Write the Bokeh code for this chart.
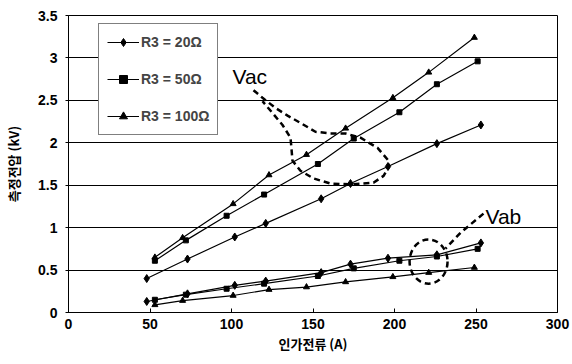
from bokeh.plotting import figure
from bokeh.models import Range1d, Legend, LegendItem, FixedTicker, Label
from bokeh.embed import file_html
from bokeh.resources import INLINE

# ---- data ----
x20 = [48, 73, 102, 121, 155, 173, 196, 226, 253]
vac20 = [0.40, 0.63, 0.89, 1.05, 1.34, 1.52, 1.72, 1.99, 2.21]
vab20 = [0.13, 0.22, 0.32, 0.37, 0.47, 0.57, 0.64, 0.68, 0.82]

x50 = [53, 72, 97, 120, 153, 175, 203, 226, 251]
vac50 = [0.61, 0.85, 1.14, 1.39, 1.75, 2.05, 2.36, 2.69, 2.96]
vab50 = [0.15, 0.21, 0.28, 0.34, 0.43, 0.52, 0.61, 0.66, 0.75]

x100 = [53, 70, 101, 123, 146, 170, 199, 221, 249]
vac100 = [0.65, 0.88, 1.28, 1.62, 1.86, 2.17, 2.53, 2.83, 3.24]
vab100 = [0.09, 0.14, 0.20, 0.27, 0.30, 0.36, 0.42, 0.47, 0.53]

labels = ["R3 = 20Ω", "R3 = 50Ω", "R3 = 100Ω"]
x_ticks = [0, 50, 100, 150, 200, 250, 300]
y_ticks = [0, 0.5, 1, 1.5, 2, 2.5, 3, 3.5]

# callout annotations (data units)
vac_path_x = [113.5, 119.0, 127.0, 134.4, 143.6, 151.5, 160.7, 169.9, 179.1, 189.6, 196.3, 196.3,
              193.3, 187.1, 173.0, 160.7, 150.3, 142.3, 137.4, 136.8, 136.2, 131.3, 125.2, 119.0]
vac_path_y = [2.62, 2.53, 2.41, 2.32, 2.22, 2.13, 2.11, 2.11, 2.06, 1.94, 1.79, 1.71,
              1.61, 1.53, 1.51, 1.52, 1.58, 1.67, 1.79, 1.93, 2.06, 2.21, 2.35, 2.49]
vab_tail_x = [254.6, 240.5, 231.3]
vab_tail_y = [1.165, 0.94, 0.753]
vab_ell = dict(x=220.9, y=0.60, w=23.3, h=0.52)

FONT = "Liberation Sans"
KFONT = "Noto Sans CJK KR"

p = figure(width=572, height=364, output_backend="svg", toolbar_location=None,
           x_range=Range1d(0, 300), y_range=Range1d(0, 3.5),
           min_border_left=68, min_border_right=15, min_border_top=15, min_border_bottom=52)
p.outline_line_color = "black"
p.outline_line_width = 1
p.background_fill_color = "white"
p.border_fill_color = "white"

p.xgrid.visible = False
p.ygrid.grid_line_color = "black"
p.ygrid.grid_line_width = 1
p.ygrid.ticker = FixedTicker(ticks=y_ticks)

p.xaxis.ticker = FixedTicker(ticks=x_ticks)
p.yaxis.ticker = FixedTicker(ticks=y_ticks)
p.yaxis.major_label_overrides = {0: "0", 0.5: "0.5", 1: "1", 1.5: "1.5", 2: "2", 2.5: "2.5", 3: "3", 3.5: "3.5"}
for ax in (p.xaxis[0], p.yaxis[0]):
    ax.axis_line_color = "black"
    ax.minor_tick_line_color = None
    ax.major_label_text_font = FONT
    ax.major_label_text_font_size = "14px"
    ax.major_label_text_font_style = "bold"
    ax.major_label_text_color = "black"
    ax.axis_label_text_font = KFONT
    ax.axis_label_text_font_size = "13px"
    ax.axis_label_text_font_style = "bold"
    ax.axis_label_text_color = "black"
p.xaxis.major_tick_in = 4
p.xaxis.major_tick_out = 0
p.yaxis.major_tick_in = 0
p.yaxis.major_tick_out = 3
p.xaxis.major_label_standoff = 6
p.yaxis.major_label_standoff = 8
p.xaxis.axis_label = "인가전류 (A)"
p.yaxis.axis_label = "측정전압 (kV)"
p.xaxis.axis_label_standoff = 2
p.yaxis.axis_label_standoff = 12

series = [
    (x20, vac20, vab20, "diamond", 8),
    (x50, vac50, vab50, "square", 5),
    (x100, vac100, vab100, "triangle", 6),
]
items = []
for (xs, vac, vab, mk, sz), lab in zip(series, labels):
    l1 = p.line(xs, vac, line_color="black", line_width=1.2)
    s1 = p.scatter(xs, vac, marker=mk, size=sz, fill_color="black", line_color="black")
    p.line(xs, vab, line_color="black", line_width=1.2)
    p.scatter(xs, vab, marker=mk, size=sz, fill_color="black", line_color="black")
    items.append(LegendItem(label=lab, renderers=[l1, s1]))

legend = Legend(items=items, location=(30, 177))
legend.border_line_color = "black"
legend.border_line_width = 1
legend.background_fill_alpha = 1
legend.label_text_font = FONT
legend.label_text_font_size = "14px"
legend.label_text_font_style = "bold"
legend.glyph_width = 32
legend.glyph_height = 20
legend.label_height = 20
legend.spacing = 17
legend.padding = 8
legend.margin = 0
legend.label_standoff = 2
p.add_layout(legend, "center")

# callouts
p.line(vac_path_x, vac_path_y, line_color="black", line_width=2.5, line_dash="6 4")
p.line(vab_tail_x, vab_tail_y, line_color="black", line_width=2.5, line_dash="6 4")
p.ellipse(x=[vab_ell["x"]], y=[vab_ell["y"]], width=[vab_ell["w"]], height=[vab_ell["h"]],
          fill_color=None, line_color="black", line_width=2.5, line_dash="6 4")

p.add_layout(Label(x=100.6, y=2.78, text="Vac", text_font=FONT, text_font_size="21px",
                   text_baseline="alphabetic", text_align="left", text_color="black"))
p.add_layout(Label(x=255.8, y=1.13, text="Vab", text_font=FONT, text_font_size="21px",
                   text_baseline="alphabetic", text_align="left", text_color="black"))

open("out.html", "w").write(file_html(p, INLINE))
